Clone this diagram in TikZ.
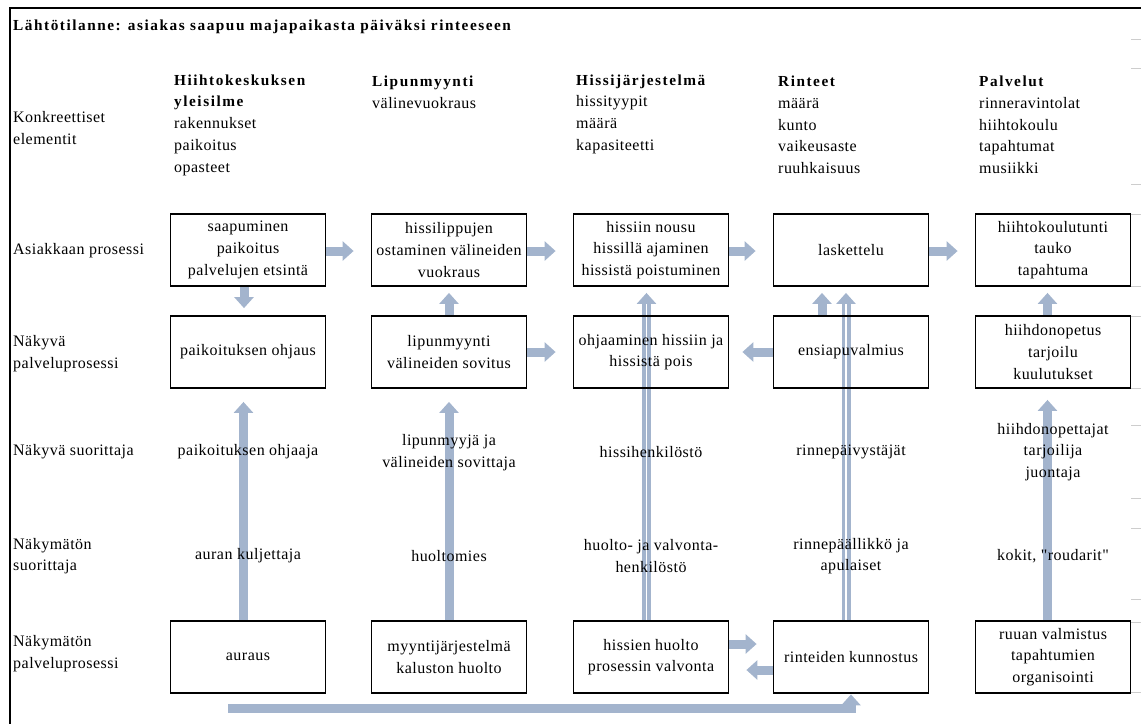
\documentclass[tikz,border=0pt]{standalone}
\usepackage{fontspec}
\setmainfont{Liberation Serif}[LetterSpace=3, Ligatures=TeXOff]
\newfontfamily\headfamily{Liberation Serif}[LetterSpace=10]
\usetikzlibrary{arrows.meta}
\definecolor{flowblue}{RGB}{163,180,205}
\definecolor{tickgray}{RGB}{205,205,205}
\newcommand\diagtext{\fontsize{16}{21.7}\selectfont}
\newcommand\diagbold{\headfamily\bfseries\fontsize{15.3}{21.7}\selectfont}
\pgfdeclarelayer{flows}
\pgfsetlayers{flows,main}
\begin{document}
\begin{tikzpicture}[x=1pt,y=-1pt,
  stage/.style={draw=black, line width=1.8pt, minimum width=155pt, minimum height=72pt,
    inner sep=2pt, align=center, font=\diagtext},
  rowlabel/.style={anchor=west, align=left, font=\diagtext, inner sep=0pt},
  colhead/.style={anchor=west, align=left, font=\diagtext, inner sep=0pt},
  actor/.style={align=center, font=\diagtext, inner sep=0pt},
  flow/.style={draw=flowblue, line width=9pt, -{Triangle[width=19pt,length=11pt]}},
  core/.style={draw=white, line width=1.6pt}]
\useasboundingbox (0,0) rectangle (1141,724);

% frame and row ticks
\draw[line width=2pt] (1141,8) -- (10,8) -- (10,724);
\foreach \yy in {39,68,184,214,286,316,388,425,498,528,599,622,692}
  \draw[tickgray, line width=1pt] (1131,\yy) -- (1141,\yy);

% title
\node[anchor=west, font=\diagbold, inner sep=0pt] (title) at (13,27)
  {Lähtötilanne: asiakas saapuu majapaikasta päiväksi rinteeseen};

% row labels
\node[rowlabel] (r1) at (13,128) {Konkreettiset\\elementit};
\node[rowlabel] (r2) at (13,251) {Asiakkaan prosessi};
\node[rowlabel] (r3) at (13,353.5) {Näkyvä\\palveluprosessi};
\node[rowlabel] (r4) at (13,452) {Näkyvä suorittaja};
\node[rowlabel] (r5) at (13,556) {Näkymätön\\suorittaja};
\node[rowlabel] (r6) at (13,653.5) {Näkymätön\\palveluprosessi};

% column headings with concrete elements
\node[colhead] (h1) at (174,125) {{\diagbold Hiihtokeskuksen}\\{\diagbold yleisilme}\\rakennukset\\paikoitus\\opasteet};
\node[colhead] (h2) at (372,92.5) {{\diagbold Lipunmyynti}\\välinevuokraus};
\node[colhead] (h3) at (576,114) {{\diagbold Hissijärjestelmä}\\hissityypit\\määrä\\kapasiteetti};
\node[colhead] (h4) at (778,125) {{\diagbold Rinteet}\\määrä\\kunto\\vaikeusaste\\ruuhkaisuus};
\node[colhead] (h5) at (979,125) {{\diagbold Palvelut}\\rinneravintolat\\hiihtokoulu\\tapahtumat\\musiikki};

% customer process
\node[stage] (a1) at (248,250) {saapuminen\\paikoitus\\palvelujen etsintä};
\node[stage] (a2) at (449,250) {hissilippujen\\ostaminen välineiden\\vuokraus};
\node[stage] (a3) at (651,250) {hissiin nousu\\hissillä ajaminen\\hissistä poistuminen};
\node[stage] (a4) at (851,250) {laskettelu};
\node[stage] (a5) at (1053,250) {hiihtokoulutunti\\tauko\\tapahtuma};

% visible service process
\node[stage] (b1) at (248,352) {paikoituksen ohjaus};
\node[stage] (b2) at (449,352) {lipunmyynti\\välineiden sovitus};
\node[stage] (b3) at (651,352) {ohjaaminen hissiin ja\\hissistä pois};
\node[stage] (b4) at (851,352) {ensiapuvalmius};
\node[stage] (b5) at (1053,352) {hiihdonopetus\\tarjoilu\\kuulutukset};

% visible performers
\node[actor] (v1) at (248,452) {paikoituksen ohjaaja};
\node[actor] (v2) at (449,452.5) {lipunmyyjä ja\\välineiden sovittaja};
\node[actor] (v3) at (651,452) {hissihenkilöstö};
\node[actor] (v4) at (851,452) {rinnepäivystäjät};
\node[actor] (v5) at (1053,452) {hiihdonopettajat\\tarjoilija\\juontaja};

% invisible performers
\node[actor] (u1) at (248,556) {auran kuljettaja};
\node[actor] (u2) at (449,556) {huoltomies};
\node[actor] (u3) at (651,556) {huolto- ja valvonta-\\henkilöstö};
\node[actor] (u4) at (851,556) {rinnepäällikkö ja\\apulaiset};
\node[actor] (u5) at (1053,556) {kokit, "roudarit"};

% invisible service process
\node[stage] (c1) at (248,657) {auraus};
\node[stage] (c2) at (449,657) {myyntijärjestelmä\\kaluston huolto};
\node[stage] (c3) at (651,657) {hissien huolto\\prosessin valvonta};
\node[stage] (c4) at (851,657) {rinteiden kunnostus};
\node[stage] (c5) at (1053,657) {ruuan valmistus\\tapahtumien\\organisointi};

\coordinate (busstart) at (228,708);

\begin{pgfonlayer}{flows}
  % customer flow
  \draw[flow, shorten >=17pt] ([yshift=-1pt]a1.east) -- ([yshift=-1pt]a2.west);
  \draw[flow, shorten >=17pt] ([yshift=-1pt]a2.east) -- ([yshift=-1pt]a3.west);
  \draw[flow, shorten >=17pt] ([yshift=-1pt]a3.east) -- ([yshift=-1pt]a4.west);
  \draw[flow, shorten >=17pt] ([yshift=-1pt]a4.east) -- ([yshift=-1pt]a5.west);
  % between customer and visible process
  \draw[flow, shorten >=7pt] ([xshift=-4pt]a1.south) -- ([xshift=-4pt]b1.north);
  \draw[flow, shorten >=6pt] (b2.north) -- (a2.south);
  \draw[flow, shorten >=6pt] ([xshift=-29pt]b4.north) -- ([xshift=-29pt]a4.south);
  \draw[flow, shorten >=6pt] ([xshift=-5.5pt]b5.north) -- ([xshift=-5.5pt]a5.south);
  \draw[flow, shorten >=17pt] (b2.east) -- (b3.west);
  \draw[flow, shorten >=13pt] (b4.west) -- (b3.east);
  % support from the invisible process
  \draw[flow, shorten >=13pt] ([xshift=-4.5pt]c1.north) -- ([xshift=-4.5pt]b1.south);
  \draw[flow, shorten >=13pt] (c2.north) -- (b2.south);
  \draw[flow, shorten >=11pt] ([xshift=-5.5pt]c5.north) -- ([xshift=-5.5pt]b5.south);
  \draw[flow, shorten >=6pt] ([xshift=-4.5pt]c3.north) -- ([xshift=-4.5pt]a3.south);
  \draw[core, shorten >=17pt] ([xshift=-4.5pt]c3.north) -- ([xshift=-4.5pt]a3.south);
  \draw[flow, shorten >=6pt] ([xshift=-5pt]c4.north) -- ([xshift=-5pt]a4.south);
  \draw[core, shorten >=17pt] ([xshift=-5pt]c4.north) -- ([xshift=-5pt]a4.south);
  % within the invisible process
  \draw[flow, shorten >=16pt] ([yshift=13pt]c3.east) -- ([yshift=13pt]c4.west);
  \draw[flow, shorten >=17pt] ([yshift=-13pt]c4.west) -- ([yshift=-13pt]c3.east);
  \draw[flow, shorten >=0.5pt] (busstart) -| (c4.south);
\end{pgfonlayer}
\end{tikzpicture}
\end{document}
